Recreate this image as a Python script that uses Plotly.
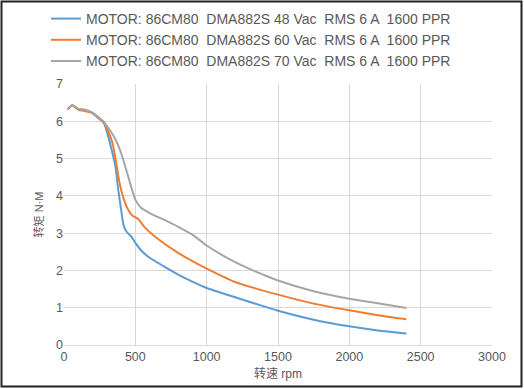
import plotly.graph_objects as go

series_names = [
    "MOTOR: 86CM80  DMA882S 48 Vac  RMS 6 A  1600 PPR",
    "MOTOR: 86CM80  DMA882S 60 Vac  RMS 6 A  1600 PPR",
    "MOTOR: 86CM80  DMA882S 70 Vac  RMS 6 A  1600 PPR",
]
colors = ["#5B9BD5", "#ED7D31", "#A5A5A5"]

speed_48 = [25, 58, 100, 150, 200, 250, 280, 300, 330, 360, 380, 400, 420, 440, 470, 500, 550, 600, 700, 800, 900, 1000, 1200, 1500, 1750, 2000, 2200, 2400]
torque_48 = [6.32, 6.43, 6.33, 6.3, 6.22, 6.06, 5.95, 5.73, 5.3, 4.8, 4.17, 3.63, 3.18, 3.03, 2.92, 2.74, 2.5, 2.34, 2.11, 1.89, 1.7, 1.53, 1.28, 0.92, 0.68, 0.5, 0.39, 0.31]

speed_60 = [25, 58, 100, 150, 200, 250, 280, 300, 340, 370, 390, 420, 450, 480, 520, 550, 580, 650, 800, 900, 1000, 1200, 1500, 1750, 2000, 2200, 2400]
torque_60 = [6.32, 6.43, 6.31, 6.27, 6.22, 6.06, 5.97, 5.82, 5.41, 4.79, 4.34, 3.9, 3.63, 3.47, 3.38, 3.23, 3.1, 2.87, 2.47, 2.25, 2.05, 1.69, 1.35, 1.11, 0.93, 0.8, 0.69]

speed_70 = [25, 58, 100, 150, 200, 250, 280, 300, 350, 400, 450, 500, 540, 600, 700, 800, 900, 1000, 1100, 1200, 1300, 1400, 1500, 1750, 2000, 2200, 2400]
torque_70 = [6.32, 6.43, 6.33, 6.31, 6.23, 6.08, 5.98, 5.88, 5.59, 5.15, 4.52, 3.9, 3.68, 3.54, 3.36, 3.17, 2.96, 2.67, 2.43, 2.22, 2.04, 1.88, 1.73, 1.44, 1.24, 1.12, 0.99]

x_ticks = [0, 500, 1000, 1500, 2000, 2500, 3000]
y_ticks = [0, 1, 2, 3, 4, 5, 6, 7]

fig = go.Figure()
for name, xs, ys, c in zip(series_names, [speed_48, speed_60, speed_70], [torque_48, torque_60, torque_70], colors):
    fig.add_trace(go.Scatter(x=xs, y=ys, mode="lines", name=name,
                             line=dict(color=c, width=2, shape="spline", smoothing=0.6)))

W, H = 524, 389
L, R, T, B = 64, 32, 84, 44
pw, ph = W - L - R, H - T - B

font = "Liberation Sans, Arial, Noto Sans CJK SC, sans-serif"
title_font = "Liberation Sans, Noto Sans CJK SC, sans-serif"
fig.update_layout(
    width=W, height=H,
    margin=dict(l=L, r=R, t=T, b=B, autoexpand=False),
    paper_bgcolor="white", plot_bgcolor="white",
    font=dict(family=font, color="#595959", size=12),
    legend=dict(x=(46 - L) / pw, y=(H - B - 3) / ph, xanchor="left", yanchor="top",
                font=dict(size=14, color="#595959"), bgcolor="rgba(0,0,0,0)",
                itemwidth=30, tracegroupgap=0),
    showlegend=True,
    xaxis=dict(range=[0, 3000], tickvals=x_ticks, showgrid=True, gridcolor="#D9D9D9", gridwidth=1,
               zeroline=False, showline=True, linecolor="#D9D9D9", linewidth=1, ticks="",
               tickfont=dict(size=12.5, color="#595959"),
               title=dict(text="转速 rpm", font=dict(size=12, color="#595959", family=title_font), standoff=6)),
    yaxis=dict(range=[0, 7], tickvals=y_ticks, showgrid=True, gridcolor="#D9D9D9", gridwidth=1,
               zeroline=False, showline=False, ticks="",
               tickfont=dict(size=12.5, color="#595959"),
               title=dict(text="转矩 N·M", font=dict(size=11, color="#595959", family=title_font), standoff=10)),
)

fig.add_shape(type="rect", xref="paper", yref="paper",
              x0=(1.5 - L) / pw, x1=(W - 2.5 - L) / pw,
              y0=(H - B - (H - 2.5)) / ph, y1=(H - B - 1.5) / ph,
              line=dict(color="#222222", width=2), fillcolor="rgba(0,0,0,0)", layer="above")

fig.write_html("out.html", config={"displayModeBar": False},
               post_script="document.body.style.margin='0';document.body.style.overflow='hidden';")
